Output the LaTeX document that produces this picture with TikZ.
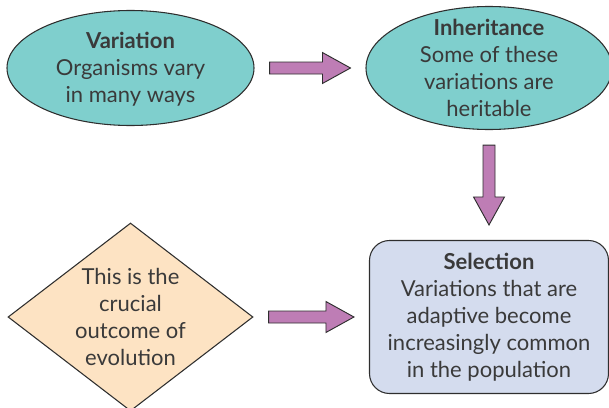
\documentclass[tikz,border=0pt]{standalone}
\usepackage{fontspec}
\setmainfont{Lato}
\usetikzlibrary{shapes.geometric,calc}
\definecolor{tealfill}{HTML}{7FCFCD}
\definecolor{peachfill}{HTML}{FDE3C3}
\definecolor{lavfill}{HTML}{D4DCEE}
\definecolor{plumfill}{HTML}{BE7DB5}
\definecolor{edge}{HTML}{2E2E2E}
\definecolor{ink}{HTML}{3A3A3A}
\newcommand\fatarrow[2]{%
\coordinate (s) at #1;\coordinate (e) at #2;
\coordinate (h) at ($(e)!21pt!(s)$);
\draw[barrow]($(s)!4.5pt!90:(e)$)--($(h)!4.5pt!90:(e)$)--($(h)!11.6pt!90:(e)$)--(e)
--($(h)!11.6pt!-90:(e)$)--($(h)!4.5pt!-90:(e)$)--($(s)!4.5pt!-90:(e)$)--cycle;}

\begin{document}
\begin{tikzpicture}[x=0.75pt,y=-0.75pt,
cell/.style={draw=edge,line width=0.8pt,inner sep=0pt},
txt/.style={align=center,text=ink,font=\fontsize{16.5}{20.25}\selectfont},
barrow/.style={draw=edge,line width=0.7pt,fill=plumfill}]
\clip (0,0) rectangle (609,407);
\node[cell,ellipse,fill=tealfill,minimum width=185.25pt,minimum height=86.25pt] (var) at (130.5,68) {};
\node[txt] (vartxt) at (130.5,69.5) {\textbf{Variation}\\Organisms vary\\in many ways};
\node[cell,ellipse,fill=tealfill,minimum width=184.5pt,minimum height=92.25pt] (inh) at (489,68) {};
\node[txt] (inhtxt) at (inh) {\textbf{Inheritance}\\Some of these\\variations are\\heritable};
\node[cell,diamond,fill=peachfill,minimum width=183.75pt,minimum height=141pt] (out) at (130.5,317) {};
\node[txt] (outtxt) at (out) {This is the\\crucial\\outcome of\\evolution};
\node[cell,txt,rounded corners=15pt,fill=lavfill,minimum width=179.25pt,minimum height=114.75pt] (sel) at (489,317)
{\textbf{Selection}\\Variations that are\\adaptive become\\increasingly common\\in the population};
\fatarrow{($(var.east)+(15,0)$)}{($(inh.west)+(-15,0)$)}
\fatarrow{($(inh.south)+(0,15)$)}{($(sel.north)+(0,-15)$)}
\fatarrow{($(out.east)+(15,0)$)}{($(sel.west)+(-15,0)$)}
\end{tikzpicture}
\end{document}
